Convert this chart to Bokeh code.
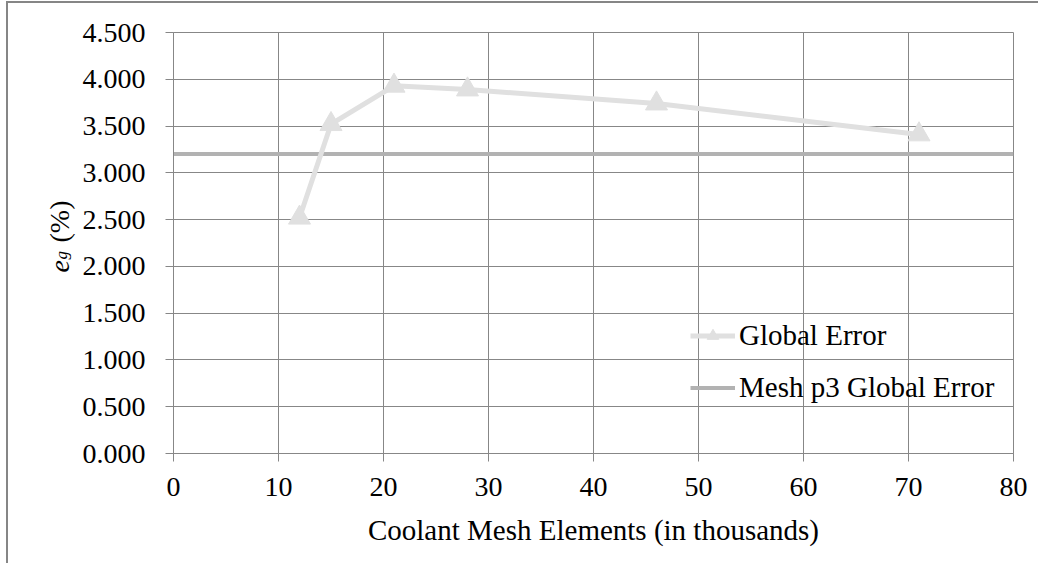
import math
from bokeh.plotting import figure
from bokeh.layouts import row
from bokeh.models import Range1d, NumeralTickFormatter, FixedTicker, Legend, LegendItem
from bokeh.core.properties import value
from bokeh.embed import file_html
from bokeh.resources import INLINE

# ---- data ----
mesh_elements = [12, 15, 21, 28, 46, 71]          # thousands
global_error = [2.52, 3.52, 3.93, 3.89, 3.74, 3.41]  # %
p3_x = [0, 80]
p3_error = [3.20, 3.20]
x_ticks = [0, 10, 20, 30, 40, 50, 60, 70, 80]
y_ticks = [0.0, 0.5, 1.0, 1.5, 2.0, 2.5, 3.0, 3.5, 4.0, 4.5]
y_title_parts = ["e", "g", "(%)"]

FONT = "Liberation Serif"
GRID = "#878787"
H = 560
LAB_W = 70

# ---- narrow panel holding the rotated y-axis title (e_g (%)) ----
lab = figure(width=LAB_W, height=H, output_backend="svg", toolbar_location=None,
             x_range=Range1d(0, LAB_W), y_range=Range1d(0, H),
             x_axis_type=None, y_axis_type=None,
             min_border_left=0, min_border_right=0, min_border_top=0, min_border_bottom=0,
             frame_width=LAB_W, frame_height=H)
lab.outline_line_color = None
# layout positions (panel pixels, y measured from the bottom)
lab.text(x=[51], y=[H - 240], text=[y_title_parts[0]], angle=math.pi / 2,
         text_font=value(FONT), text_font_size="28px", text_font_style="italic",
         text_color="black", text_align="left", text_baseline="alphabetic")
lab.text(x=[52.5], y=[H - 227], text=[y_title_parts[1]], angle=math.pi / 2,
         text_font=value(FONT), text_font_size="17px", text_font_style="italic",
         text_color="black", text_align="left", text_baseline="alphabetic")
lab.text(x=[50.5], y=[H - 210], text=[y_title_parts[2]], angle=math.pi / 2,
         text_font=value(FONT), text_font_size="28px",
         text_color="black", text_align="left", text_baseline="alphabetic")

# ---- main chart ----
p = figure(width=95 + 840 + 25, height=H, output_backend="svg", toolbar_location=None,
           x_range=Range1d(0, 80), y_range=Range1d(0, 4.5),
           min_border_left=95, min_border_right=25, min_border_top=29, min_border_bottom=107,
           frame_width=840, frame_height=421)

p.outline_line_color = GRID
p.outline_line_width = 1
for g in (p.xgrid, p.ygrid):
    g.grid_line_color = GRID
    g.grid_line_width = 1
p.xaxis.ticker = FixedTicker(ticks=x_ticks)
p.yaxis.ticker = FixedTicker(ticks=y_ticks)
p.yaxis.formatter = NumeralTickFormatter(format="0.000")
for ax in (p.xaxis, p.yaxis):
    ax.axis_line_color = GRID
    ax.major_tick_line_color = GRID
    ax.major_tick_out = 8
    ax.major_tick_in = 0
    ax.minor_tick_line_color = None
    ax.major_label_text_font = FONT
    ax.major_label_text_font_size = "28px"
    ax.major_label_text_color = "black"
p.yaxis.major_label_standoff = 20
p.xaxis.major_label_standoff = 16
p.xaxis.axis_label = "Coolant Mesh Elements (in thousands)"
p.xaxis.axis_label_text_font = FONT
p.xaxis.axis_label_text_font_size = "29px"
p.xaxis.axis_label_text_font_style = "normal"
p.xaxis.axis_label_text_color = "black"
p.xaxis.axis_label_standoff = 15

r_mesh = p.line(p3_x, p3_error, line_color="#b2b2b2", line_width=4)
r_line = p.line(mesh_elements, global_error, line_color="#e0e0e0", line_width=5)
r_pts = p.scatter(mesh_elements, global_error, marker="triangle", size=22,
                  fill_color="#e0e0e0", line_color="#e0e0e0")

legend = Legend(items=[LegendItem(label="Global Error", renderers=[r_line, r_pts]),
                       LegendItem(label="Mesh p3 Global Error", renderers=[r_mesh])],
                location=(517, 49), background_fill_alpha=0, border_line_color=None,
                label_text_font=FONT, label_text_font_size="29px", label_text_color="black",
                label_height=29, glyph_height=29, glyph_width=45, spacing=19,
                padding=0, margin=0, label_standoff=4)
p.add_layout(legend)

layout = row(lab, p, spacing=0)
layout.styles = {"border-left": "2px solid #868686", "border-top": "2px solid #868686",
                 "margin-left": "6px", "margin-top": "1px"}

open("out.html", "w").write(file_html(layout, INLINE))
